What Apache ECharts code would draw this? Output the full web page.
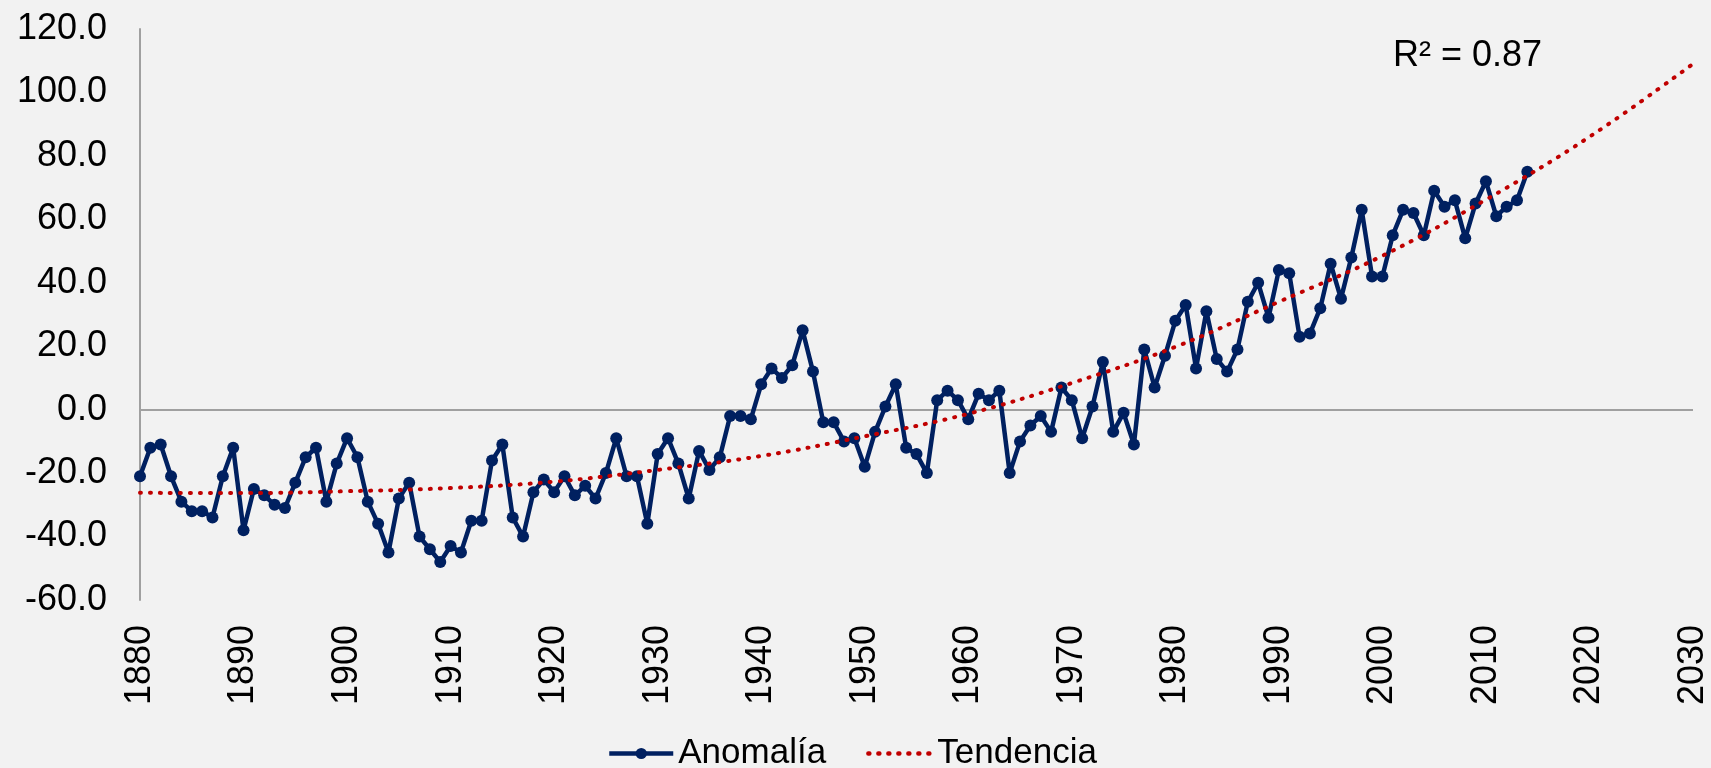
<!DOCTYPE html>
<html>
<head>
<meta charset="utf-8">
<script src="https://cdn.jsdelivr.net/npm/echarts@6/dist/echarts.min.js"></script>
<style>
html,body{margin:0;padding:0;background:#f2f2f2;}
#chart{width:1711px;height:768px;}
</style>
</head>
<body>
<div id="chart"></div>
<script>
// Data
const startYear = 1880;
const anomalia = [
  -21, -12, -11, -21, -29, -32, -32, -34, -21, -12,   // 1880-1889
  -38, -25, -27, -30, -31, -23, -15, -12, -29, -17,   // 1890-1899
  -9, -15, -29, -36, -45, -28, -23, -40, -44, -48,    // 1900-1909
  -43, -45, -35, -35, -16, -11, -34, -40, -26, -22,   // 1910-1919
  -26, -21, -27, -24, -28, -20, -9, -21, -21, -36,    // 1920-1929
  -14, -9, -17, -28, -13, -19, -15, -2, -2, -3,       // 1930-1939
  8, 13, 10, 14, 25, 12, -4, -4, -10, -9,             // 1940-1949
  -18, -7, 1, 8, -12, -14, -20, 3, 6, 3,              // 1950-1959
  -3, 5, 3, 6, -20, -10, -5, -2, -7, 7,               // 1960-1969
  3, -9, 1, 15, -7, -1, -11, 19, 7, 17,               // 1970-1979
  28, 33, 13, 31, 16, 12, 19, 34, 40, 29,             // 1980-1989
  44, 43, 23, 24, 32, 46, 35, 48, 63, 42,             // 1990-1999
  42, 55, 63, 62, 55, 69, 64, 66, 54, 65,             // 2000-2009
  72, 61, 64, 66, 75                                  // 2010-2014
];
const trendYears = [1880, 1890, 1900, 1910, 1920, 1930, 1940, 1950, 1960, 1970, 1980, 1990, 2000, 2010, 2020, 2030];
const trendValues = [-26.2, -26.3, -25.7, -24.7, -22.7, -19.0, -14.6, -8.4, -1.3, 8.4, 19.8, 34.0, 48.5, 66.2, 86.0, 109.0];
const yTicks = { min: -60, max: 120, interval: 20 };
const xTicks = { min: 1880, max: 2030, interval: 10 };
const rSquaredText = 'R² = 0.87';

const anomData = anomalia.map((v, i) => [startYear + i, v]);
const trendData = trendYears.map((y, i) => [y, trendValues[i]]);

const FONT = '"Liberation Sans", Arial, sans-serif';
const chart = echarts.init(document.getElementById('chart'), null, { renderer: 'canvas' });
chart.setOption({
  backgroundColor: '#f2f2f2',
  animation: false,
  textStyle: { fontFamily: FONT, color: '#000' },
  grid: { left: 140, right: 16, top: 29, bottom: 168 },
  xAxis: {
    type: 'value',
    min: xTicks.min, max: xTicks.max, interval: xTicks.interval,
    axisLine: { show: false },
    axisTick: { show: false },
    splitLine: { show: false },
    axisLabel: { rotate: 90, margin: 25, fontSize: 36, color: '#000', fontFamily: FONT, formatter: v => String(v) }
  },
  yAxis: {
    type: 'value',
    min: yTicks.min, max: yTicks.max, interval: yTicks.interval,
    axisLine: { show: true, onZero: false, lineStyle: { color: '#a0a0a0', width: 2 } },
    axisTick: { show: false },
    splitLine: { show: false },
    axisLabel: { margin: 33, fontSize: 36, color: '#000', fontFamily: FONT, formatter: v => v.toFixed(1) }
  },
  legend: {
    left: 602, top: 731,
    itemWidth: 64, itemHeight: 14, itemGap: 40,
    textStyle: { fontSize: 35, color: '#000', fontFamily: FONT, padding: [0, 0, 0, 0] },
    data: [
      { name: 'Anomalía', lineStyle: { width: 4.5 }, itemStyle: { color: '#002060' } },
      { name: 'Tendencia', lineStyle: { width: 4.5, type: [1, 9], cap: 'round', color: '#c00000' }, itemStyle: { color: 'rgba(0,0,0,0)', borderWidth: 0 } }
    ]
  },
  series: [
    {
      name: 'Anomalía',
      type: 'line',
      data: anomData,
      symbol: 'circle',
      symbolSize: 12,
      showSymbol: true,
      lineStyle: { color: '#002060', width: 4.5 },
      itemStyle: { color: '#002060' },
      z: 2,
      markLine: {
        silent: true,
        symbol: 'none',
        label: { show: false },
        lineStyle: { color: '#a0a0a0', width: 2, type: 'solid' },
        data: [{ yAxis: 0 }],
        z: 1
      }
    },
    {
      name: 'Tendencia',
      type: 'line',
      data: trendData,
      smooth: 0.4,
      symbol: 'none',
      lineStyle: { color: '#c00000', width: 4, type: [1, 9], cap: 'round' },
      itemStyle: { color: '#c00000' },
      z: 3
    }
  ],
  graphic: [
    {
      type: 'text',
      left: 1393, top: 38,
      style: { text: rSquaredText, font: '36px "Liberation Sans", Arial, sans-serif', fill: '#000' }
    }
  ]
});
</script>
</body>
</html>
